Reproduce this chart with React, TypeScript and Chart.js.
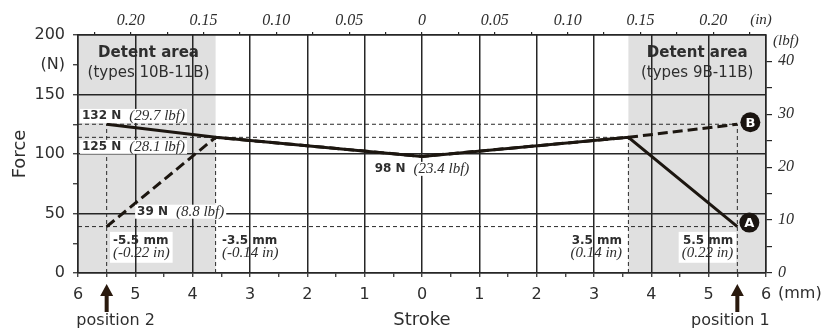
import React, { useEffect, useRef } from 'react';
import { Chart, registerables } from 'chart.js';

Chart.register(...registerables);

// ---- data ----
const strokeMm = [-5.5, -3.6, 0, 3.6, 5.5];
const forceSolidN = [125, 114, 98, 114, 39];
const forceDashedN = [39, 114, 98, 114, 125];

const guideLevelsN = [125, 114, 39];
const guideLevelEndsMm = [5.5, 3.6, 5.5];
const guideStrokesMm = [-5.5, -3.6, 3.6, 5.5];
const guideStrokeTopsN = [125, 114, 114, 125];

const detentRangesMm = [
  [-6, -3.6],
  [3.6, 6],
];

const mmTicks = [-6, -5.5, -5, -4.5, -4, -3.5, -3, -2.5, -2, -1.5, -1, -0.5, 0, 0.5, 1, 1.5, 2, 2.5, 3, 3.5, 4, 4.5, 5, 5.5, 6];
const inchTicks = [-0.225, -0.2, -0.175, -0.15, -0.125, -0.1, -0.075, -0.05, -0.025, 0, 0.025, 0.05, 0.075, 0.1, 0.125, 0.15, 0.175, 0.2, 0.225];
const newtonTicks = [0, 25, 50, 75, 100, 125, 150, 175, 200];
const lbfTicks = [0, 5, 10, 15, 20, 25, 30, 35, 40];
const N_PER_LBF = 4.448;

const forceNotes = [
  { head: '132 N', tail: '(29.7 lbf)', atMm: -5.93, atN: 132, align: 'left' },
  { head: '125 N', tail: '(28.1 lbf)', atMm: -5.93, atN: 106, align: 'left' },
  { head: '98 N', tail: '(23.4 lbf)', atMm: 0, atN: 87.5, align: 'center' },
  { head: '39 N', tail: '(8.8 lbf)', atMm: -4.97, atN: 51.5, align: 'left' },
];
const strokeNotes = [
  { mm: '-5.5 mm', inch: '(-0.22 in)', atMm: -5.39, align: 'left' },
  { mm: '-3.5 mm', inch: '(-0.14 in)', atMm: -3.49, align: 'left' },
  { mm: '3.5 mm', inch: '(0.14 in)', atMm: 3.49, align: 'right' },
  { mm: '5.5 mm', inch: '(0.22 in)', atMm: 5.43, align: 'right' },
];
const detentNotes = [
  { title: 'Detent area', types: '(types 10B-11B)', atMm: -4.77 },
  { title: 'Detent area', types: '(types 9B-11B)', atMm: 4.8 },
];
const positionNotes = [
  { text: 'position 2', atMm: -5.5, shift: 9 },
  { text: 'position 1', atMm: 5.5, shift: -7 },
];
const endMarks = [
  { letter: 'B', atMm: 5.5, atN: 125, dx: 13, dy: -2 },
  { letter: 'A', atMm: 5.5, atN: 39, dx: 12, dy: -4 },
];

// ---- styles ----
const SANS = "'DejaVu Sans', sans-serif";
const SERIF = "'Liberation Serif', serif";
const TEXT = '#2e2e2e';
const GRID = '#262626';
const INK = '#1c1610';
const GRAY = '#e0e0e0';

type Part = [string, string];

function drawParts(ctx: CanvasRenderingContext2D, parts: Part[], x: number, y: number, align: string, box: boolean) {
  const widths = parts.map(([t, f]) => {
    ctx.font = f;
    return ctx.measureText(t).width;
  });
  const total = widths.reduce((a, b) => a + b, 0);
  let sx = align === 'left' ? x : align === 'right' ? x - total : x - total / 2;
  if (box) {
    ctx.fillStyle = '#ffffff';
    ctx.fillRect(sx - 2, y - 7, total + 4, 14);
  }
  ctx.textBaseline = 'middle';
  ctx.textAlign = 'left';
  ctx.fillStyle = TEXT;
  parts.forEach(([t, f], i) => {
    ctx.font = f;
    ctx.fillText(t, sx, y);
    sx += widths[i];
  });
}

const HEAD_FONT = `bold 12px ${SANS}`;
const TAIL_FONT = `italic 15px ${SERIF}`;

const overlayPlugin = {
  id: 'overlay',
  beforeDraw(chart: any) {
    const { ctx, chartArea: a, scales } = chart;
    const xs = scales.x;
    const ys = scales.y;
    ctx.save();
    // detent areas
    ctx.fillStyle = GRAY;
    detentRangesMm.forEach(([m0, m1]) => {
      const x0 = xs.getPixelForValue(m0);
      const x1 = xs.getPixelForValue(m1);
      ctx.fillRect(x0, a.top, x1 - x0, a.bottom - a.top);
    });
    // detent texts
    ctx.fillStyle = TEXT;
    ctx.textAlign = 'center';
    ctx.textBaseline = 'middle';
    detentNotes.forEach((d) => {
      const x = xs.getPixelForValue(d.atMm);
      ctx.font = `bold 15px ${SANS}`;
      ctx.fillText(d.title, x, ys.getPixelForValue(184.5));
      ctx.font = `15px ${SANS}`;
      ctx.fillText(d.types, x, ys.getPixelForValue(168));
    });
    // stroke notes
    strokeNotes.forEach((s) => {
      const x = xs.getPixelForValue(s.atMm);
      const y1 = ys.getPixelForValue(27);
      const y2 = ys.getPixelForValue(17);
      ctx.font = HEAD_FONT;
      const w1 = ctx.measureText(s.mm).width;
      ctx.font = TAIL_FONT;
      const w2 = ctx.measureText(s.inch).width;
      const w = Math.max(w1, w2);
      const left = s.align === 'left' ? x : x - w;
      ctx.fillStyle = '#ffffff';
      ctx.fillRect(left - 3, y1 - 9, w + 6, y2 - y1 + 19);
      drawParts(ctx, [[s.mm, HEAD_FONT]], x, y1, s.align, false);
      drawParts(ctx, [[s.inch, TAIL_FONT]], x, y2, s.align, false);
    });
    ctx.restore();
  },
  afterDatasetsDraw(chart: any) {
    const { ctx, chartArea: a, scales } = chart;
    const xs = scales.x;
    const ys = scales.y;
    ctx.save();
    // force notes
    forceNotes.forEach((n) => {
      drawParts(
        ctx,
        [
          [n.head + ' ', HEAD_FONT],
          [' ' + n.tail, TAIL_FONT],
        ],
        xs.getPixelForValue(n.atMm),
        ys.getPixelForValue(n.atN),
        n.align,
        true
      );
    });
    // end marks A / B
    endMarks.forEach((m) => {
      const x = xs.getPixelForValue(m.atMm) + m.dx;
      const y = ys.getPixelForValue(m.atN) + m.dy;
      ctx.fillStyle = '#1a1410';
      ctx.beginPath();
      ctx.arc(x, y, 10, 0, Math.PI * 2);
      ctx.fill();
      ctx.fillStyle = '#ffffff';
      ctx.font = `bold 13px ${SANS}`;
      ctx.textAlign = 'center';
      ctx.textBaseline = 'middle';
      ctx.fillText(m.letter, x, y + 1);
    });
    // arrows + position labels
    positionNotes.forEach((p) => {
      const x = xs.getPixelForValue(p.atMm);
      const tip = a.bottom + 11;
      const base = a.bottom + 39;
      ctx.fillStyle = '#2a1a0e';
      ctx.beginPath();
      ctx.moveTo(x, tip);
      ctx.lineTo(x + 6.5, tip + 12);
      ctx.lineTo(x + 2, tip + 12);
      ctx.lineTo(x + 2, base);
      ctx.lineTo(x - 2, base);
      ctx.lineTo(x - 2, tip + 12);
      ctx.lineTo(x - 6.5, tip + 12);
      ctx.closePath();
      ctx.fill();
      ctx.fillStyle = TEXT;
      ctx.font = `16px ${SANS}`;
      ctx.textAlign = 'center';
      ctx.textBaseline = 'middle';
      ctx.fillText(p.text, x + p.shift, a.bottom + 48);
    });
    // unit labels
    ctx.fillStyle = TEXT;
    ctx.textBaseline = 'middle';
    ctx.font = `italic 15px ${SERIF}`;
    ctx.textAlign = 'center';
    ctx.fillText('(in)', a.right - 5, a.top - 15);
    ctx.textAlign = 'left';
    ctx.fillText('(lbf)', a.right + 7, a.top + 6);
    ctx.font = `16px ${SANS}`;
    ctx.fillText('(mm)', a.right + 12, a.bottom + 21);
    ctx.restore();
  },
};

function buildConfig(): any {
  const pts = (ys: number[]) => strokeMm.map((x, i) => ({ x, y: ys[i] }));
  const guideSets: any[] = [];
  guideLevelsN.forEach((lvl, i) => {
    guideSets.push({
      data: [
        { x: -6, y: lvl },
        { x: guideLevelEndsMm[i], y: lvl },
      ],
    });
  });
  guideStrokesMm.forEach((s, i) => {
    guideSets.push({
      data: [
        { x: s, y: 0 },
        { x: s, y: guideStrokeTopsN[i] },
      ],
    });
  });
  const guides = guideSets.map((g) => ({
    ...g,
    borderColor: '#2a2a2a',
    borderWidth: 1,
    borderDash: [4, 3],
    pointRadius: 0,
    fill: false,
  }));

  return {
    type: 'line',
    data: {
      datasets: [
        { label: 'solid', data: pts(forceSolidN), borderColor: INK, borderWidth: 3, pointRadius: 0, tension: 0, fill: false },
        { label: 'dashed', data: pts(forceDashedN), borderColor: INK, borderWidth: 3, borderDash: [10, 5], pointRadius: 0, tension: 0, fill: false },
        ...guides,
      ],
    },
    options: {
      animation: false,
      responsive: false,
      devicePixelRatio: 1,
      events: [],
      layout: { padding: 0 },
      plugins: { legend: { display: false }, tooltip: { enabled: false } },
      scales: {
        x: {
          type: 'linear',
          position: 'bottom',
          min: -6,
          max: 6,
          afterBuildTicks: (s: any) => {
            s.ticks = mmTicks.map((v) => ({ value: v }));
          },
          afterFit: (s: any) => {
            s.height = 59;
          },
          grid: {
            color: (c: any) => (Number.isInteger(c.tick?.value) ? GRID : 'rgba(0,0,0,0)'),
            tickColor: GRID,
            lineWidth: 1.5,
            tickWidth: 1.2,
            tickLength: 4,
          },
          border: { color: GRID, width: 1.5 },
          ticks: {
            autoSkip: false,
            maxRotation: 0,
            padding: 8,
            color: TEXT,
            font: { family: SANS, size: 16 },
            callback: (v: number) => (Number.isInteger(v) ? String(Math.abs(v)) : ''),
          },
          title: { display: true, text: 'Stroke', color: TEXT, font: { family: SANS, size: 18 }, padding: { top: 0, bottom: 1 } },
        },
        xTop: {
          type: 'linear',
          position: 'top',
          min: -6 / 25.4,
          max: 6 / 25.4,
          afterBuildTicks: (s: any) => {
            s.ticks = inchTicks.map((v) => ({ value: v }));
          },
          afterFit: (s: any) => {
            s.height = 35;
          },
          grid: { drawOnChartArea: false, color: GRID, lineWidth: 1.2, tickLength: 3 },
          border: { color: GRID, width: 1.5 },
          ticks: {
            autoSkip: false,
            maxRotation: 0,
            padding: 2,
            color: TEXT,
            font: { family: SERIF, size: 16, style: 'italic' },
            callback: (v: number) => {
              const k = Math.round(v / 0.025);
              if (k % 2 !== 0) return '';
              return k === 0 ? '0' : (Math.abs(k) * 0.025).toFixed(2);
            },
          },
        },
        y: {
          type: 'linear',
          position: 'left',
          min: 0,
          max: 200,
          afterBuildTicks: (s: any) => {
            s.ticks = newtonTicks.map((v) => ({ value: v }));
          },
          afterFit: (s: any) => {
            s.width = 78;
          },
          grid: {
            color: (c: any) => (c.tick && c.tick.value % 50 === 0 ? GRID : 'rgba(0,0,0,0)'),
            tickColor: GRID,
            lineWidth: 1.5,
            tickWidth: 1.2,
            tickLength: 5,
          },
          border: { color: GRID, width: 1.5 },
          ticks: {
            autoSkip: false,
            padding: 8,
            color: TEXT,
            font: { family: SANS, size: 16 },
            callback: (v: number) => (v === 175 ? '(N)' : v % 50 === 0 ? String(v) : ''),
          },
          title: { display: true, text: 'Force', color: TEXT, font: { family: SANS, size: 18 }, padding: { top: 10, bottom: 0 } },
        },
        yR: {
          type: 'linear',
          position: 'right',
          min: 0,
          max: 200 / N_PER_LBF,
          afterBuildTicks: (s: any) => {
            s.ticks = lbfTicks.map((v) => ({ value: v }));
          },
          afterFit: (s: any) => {
            s.width = 74;
          },
          grid: { drawOnChartArea: false, color: GRID, lineWidth: 1.2, tickLength: 6 },
          border: { color: GRID, width: 1.5 },
          ticks: {
            autoSkip: false,
            padding: 6,
            color: TEXT,
            font: { family: SERIF, size: 16, style: 'italic' },
            callback: (v: number) => (v % 10 === 0 ? String(v) : ''),
          },
        },
      },
    },
    plugins: [overlayPlugin],
  };
}

export default function App() {
  const ref = useRef<HTMLCanvasElement>(null);
  useEffect(() => {
    if (!ref.current) return;
    const chart = new Chart(ref.current, buildConfig());
    return () => chart.destroy();
  }, []);
  return (
    <div style={{ position: 'absolute', left: 0, top: 0, width: 840, height: 332, background: '#ffffff' }}>
      <canvas ref={ref} width={840} height={332} style={{ display: 'block', width: 840, height: 332 }} />
    </div>
  );
}
